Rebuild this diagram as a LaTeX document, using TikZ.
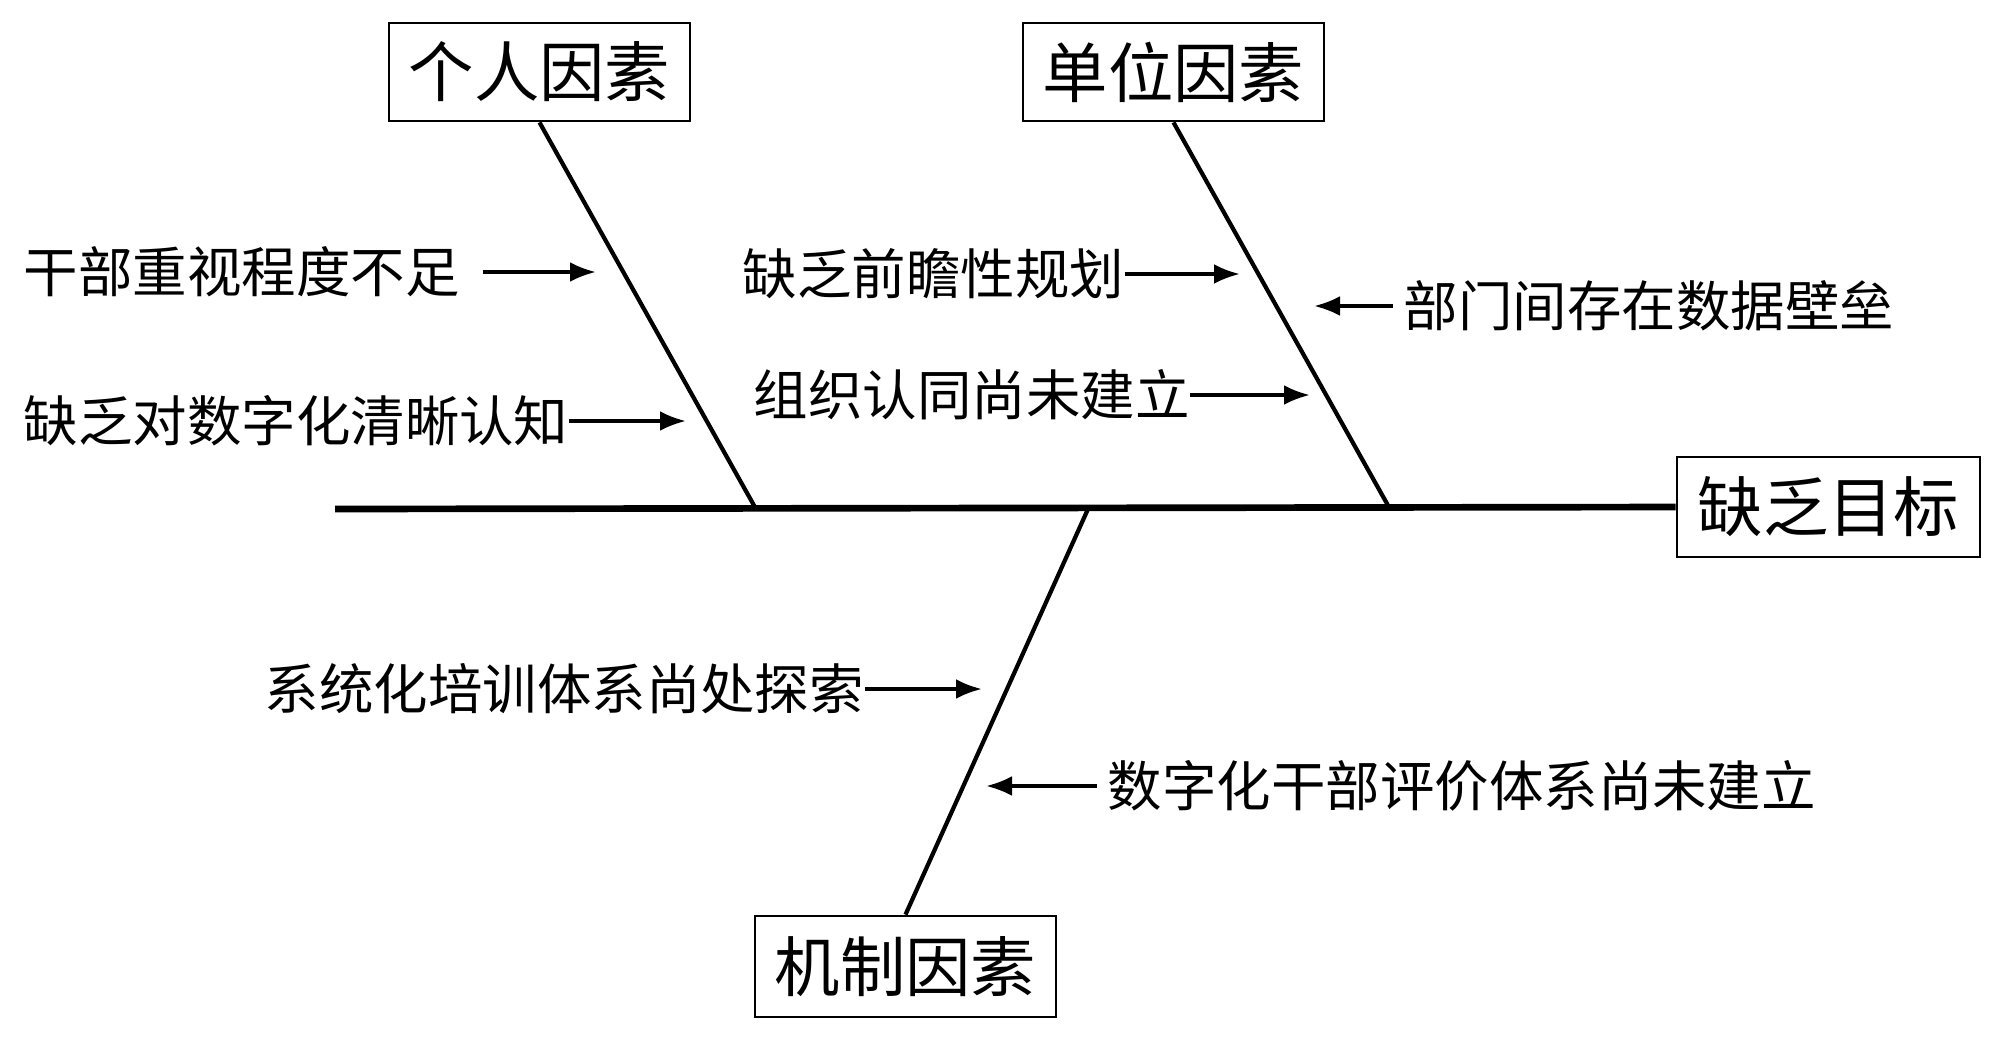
\documentclass[tikz,border=0pt]{standalone}
\usepackage{fontspec}
\newfontfamily\cjk{Noto Sans CJK SC}
\usetikzlibrary{arrows.meta}

\begin{document}
\begin{tikzpicture}[
    factor/.style={rectangle, draw=black, line width=0.8pt,
      minimum width=3.01cm, minimum height=0.98cm, inner sep=0pt,
      font=\cjk\fontsize{18.6}{20}\selectfont},
    cause/.style={inner sep=0pt, font=\cjk\fontsize{15.5}{17}\selectfont},
    spine/.style={line width=1.9pt},
    bone/.style={line width=1.2pt},
    arrow/.style={-{Latex[length=2.6mm, width=2mm]}, line width=1.1pt},
  ]
  \useasboundingbox (0,0) rectangle (20,-10.38);

  % head and the three factor boxes
  \node[factor, minimum width=3.03cm, minimum height=1cm] (goal) at (18.285,-5.07) {缺乏目标};
  \node[factor] (person) at (5.395,-0.72) {个人因素};
  \node[factor] (unit) at (11.735,-0.72) {单位因素};
  \node[factor, minimum height=1.01cm] (mech) at (9.055,-9.665) {机制因素};

  % spine and bones
  \coordinate (tail) at (3.35,-5.09);
  \coordinate (j1) at (7.56,-5.09);
  \coordinate (j2) at (13.90,-5.09);
  \coordinate (j3) at (10.88,-5.09);
  \draw[spine] (tail) -- (goal.west);
  \draw[bone] (person.south) -- (j1);
  \draw[bone] (unit.south) -- (j2);
  \draw[bone] (mech.north) -- (j3);

  % causes
  \node[cause, anchor=west] (c1) at (0.23,-2.72) {干部重视程度不足};
  \node[cause, anchor=west] (c2) at (0.23,-4.21) {缺乏对数字化清晰认知};
  \node[cause, anchor=west] (c3) at (7.42,-2.74) {缺乏前瞻性规划};
  \node[cause, anchor=west] (c4) at (7.53,-3.95) {组织认同尚未建立};
  \node[cause, anchor=west] (c5) at (14.03,-3.06) {部门间存在数据壁垒};
  \node[cause, anchor=west] (c6) at (2.64,-6.89) {系统化培训体系尚处探索};
  \node[cause, anchor=west] (c7) at (11.07,-7.86) {数字化干部评价体系尚未建立};

  \coordinate (t1) at (5.96,-2.72);
  \coordinate (t2) at (6.86,-4.21);
  \coordinate (t3) at (12.40,-2.74);
  \coordinate (t4) at (13.10,-3.95);
  \coordinate (t5) at (13.14,-3.06);
  \coordinate (t6) at (9.82,-6.89);
  \coordinate (t7) at (9.86,-7.86);

  \draw[arrow] ([xshift=2.3mm]c1.east) -- (t1);
  \draw[arrow] (c2.east) -- (t2);
  \draw[arrow] (c3.east) -- (t3);
  \draw[arrow] (c4.east) -- (t4);
  \draw[arrow] ([xshift=-1mm]c5.west) -- (t5);
  \draw[arrow] (c6.east) -- (t6);
  \draw[arrow] ([xshift=-1mm]c7.west) -- (t7);
\end{tikzpicture}
\end{document}
